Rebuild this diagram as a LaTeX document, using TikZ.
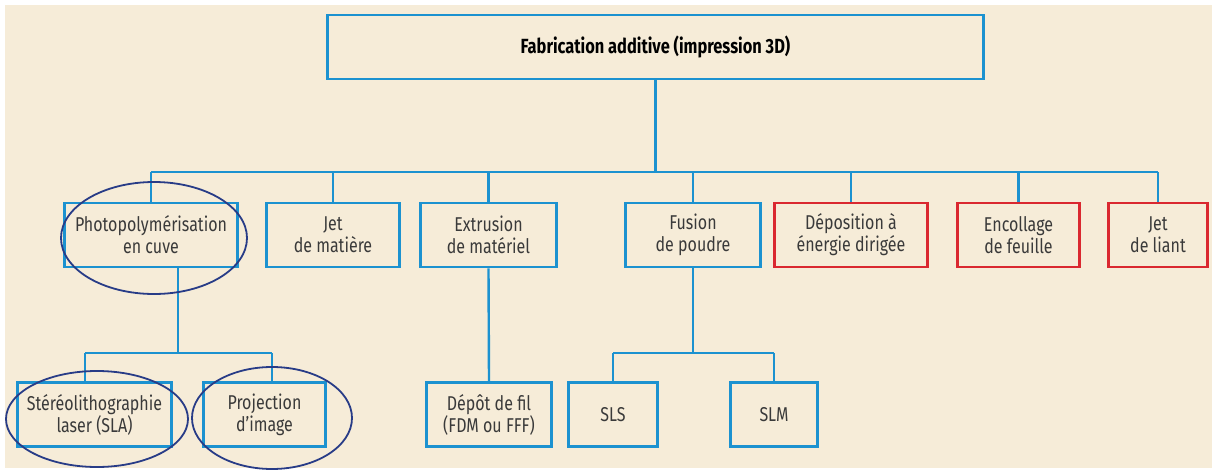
\documentclass[tikz,border=0pt]{standalone}
\usepackage{fontspec}
\setmainfont{Fira Sans}[FakeStretch=0.8]
\usetikzlibrary{calc,shapes.geometric}
\definecolor{bg}{RGB}{246,236,216}
\definecolor{bl}{RGB}{28,146,208}
\definecolor{rd}{RGB}{218,40,48}
\definecolor{tx}{RGB}{58,58,58}
\definecolor{nv}{RGB}{40,60,135}
\tikzset{
  box/.style={draw=bl, line width=2.8pt, fill=bg, minimum height=64pt, inner sep=0pt, align=center, text=tx, font=\fontsize{20}{22}\selectfont},
  redbox/.style={box, draw=rd},
  link/.style={draw=bl, line width=2.4pt},
  ring/.style={draw=nv, line width=1.8pt, ellipse, inner sep=0pt}
}
\begin{document}
\begin{tikzpicture}[x=1pt,y=-1pt]
\fill[white] (0,0) rectangle (1216,471);
\fill[bg] (5,5) rectangle (1212,468);
\useasboundingbox (0,0) rectangle (1216,471);
\coordinate (busA) at (0,172);
\coordinate (busB) at (0,353);
\node[box, minimum width=656pt, font=\bfseries\fontsize{20.5}{22}\selectfont, text=black] (top) at (655.5,47) {Fabrication additive (impression 3D)};
\node[box, minimum width=173pt] (photo) at (151,235) {Photopolymérisation\\en cuve};
\node[box, minimum width=133pt] (jetm) at (333,235) {Jet\\de matière};
\node[box, minimum width=136pt] (extr) at (488.5,235) {Extrusion\\de matériel};
\node[box, minimum width=135pt] (fus) at (693,235) {Fusion\\de poudre};
\node[redbox, minimum width=153pt] (dep) at (851,235) {Déposition à\\énergie dirigée};
\node[redbox, minimum width=122pt] (enc) at (1018.5,235) {Encollage\\de feuille};
\node[redbox, minimum width=99pt] (jetl) at (1158,235) {Jet\\de liant};
\node[box, minimum width=154pt] (sla) at (94.5,414.5) {Stéréolithographie\\laser (SLA)};
\node[box, minimum width=122pt] (proj) at (264.5,414.5) {Projection\\d’image};
\node[box, minimum width=125pt] (depot) at (489,414.5) {Dépôt de fil\\(FDM ou FFF)};
\node[box, minimum width=89pt] (sls) at (613,414.5) {SLS};
\node[box, minimum width=87pt] (slm) at (774,414.5) {SLM};
\path[link] (top.south) -- (top.south |- busA);
\path[link] (photo.north |- busA) -- (jetl.north |- busA);
\foreach \n in {photo,jetm,extr,fus,dep,enc,jetl}{
  \path[link] (\n.north |- busA) -- (\n.north);
}
\coordinate (ps) at ($(photo.south)+(27,0)$);
\coordinate (sn) at ($(sla.north)+(-9.5,0)$);
\coordinate (pn) at ($(proj.north)+(7.5,0)$);
\path[link] (ps) -- (ps |- busB);
\path[link] (sn |- busB) -- (pn |- busB);
\path[link] (sn |- busB) -- (sn);
\path[link] (pn |- busB) -- (pn);
\path[link] (extr.south) -- (depot.north);
\path[link] (fus.south) -- (fus.south |- busB);
\path[link] (sls.north |- busB) -- (slm.north |- busB);
\path[link] (sls.north |- busB) -- (sls.north);
\path[link] (slm.north |- busB) -- (slm.north);
\node[ring, minimum width=186pt, minimum height=112pt] (e1) at (154,238) {};
\node[ring, minimum width=182pt, minimum height=96pt] (e2) at (97,419) {};
\node[ring, minimum width=160pt, minimum height=102pt] (e3) at (272,418) {};
\end{tikzpicture}
\end{document}
